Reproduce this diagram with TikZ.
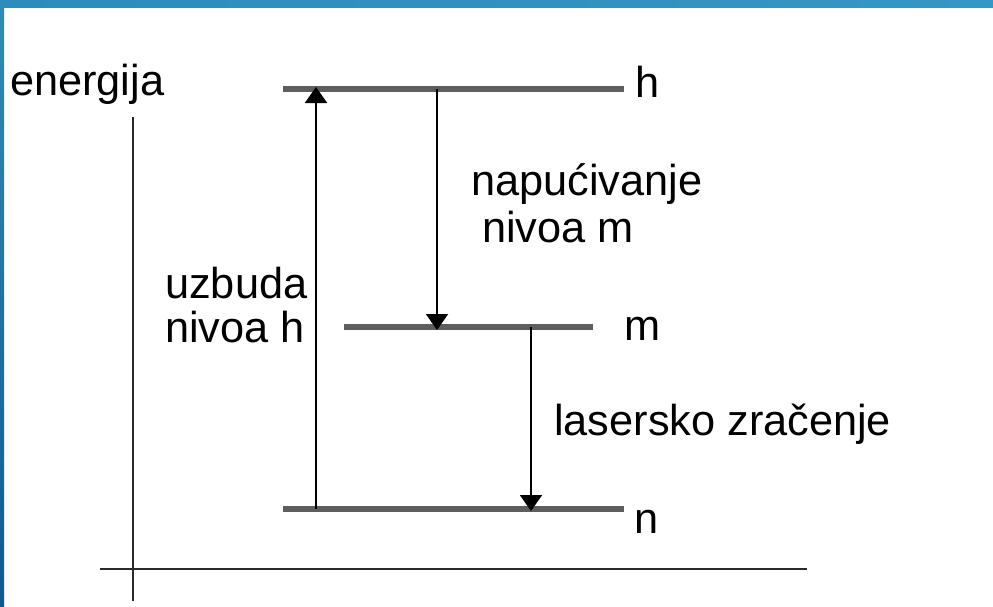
\documentclass[tikz,border=0pt]{standalone}
\usepackage{fontspec}
\setmainfont{Liberation Sans}
\usetikzlibrary{arrows.meta}
\definecolor{frametop}{HTML}{2E8CBA}
\definecolor{frameright}{HTML}{3597C3}
\definecolor{framebot}{HTML}{0C5A91}
\definecolor{levelgray}{HTML}{5E5E5E}
\definecolor{axisgray}{HTML}{2A2A2A}
\tikzset{
  lbl/.style={anchor=base west, inner sep=0pt, font=\fontsize{43.3}{47}\selectfont},
  level/.style={draw=levelgray, line width=6.5pt},
  axisline/.style={draw=axisgray, line width=2.5pt},
  trans/.style={draw=black, line width=2pt, -{Triangle[width=22pt,length=16pt]}}
}
\begin{document}
\begin{tikzpicture}[x=1pt,y=-1pt]
\useasboundingbox (0,0) rectangle (993,606);
\fill[white] (0,0) rectangle (993,606);
% frame
\shade[left color=frametop, right color=frameright] (0,0) rectangle (993,7);
\shade[top color=frametop, bottom color=framebot] (0,0) rectangle (4,606);
% axes
\coordinate (vtop) at (133,117);
\coordinate (vbot) at (133,601);
\coordinate (hl) at (100,569);
\coordinate (hr) at (807,569);
\draw[axisline] (vtop) -- (vbot);
\draw[axisline] (hl) -- (hr);
% levels
\coordinate (hL) at (283,89);  \coordinate (hR) at (624,89);
\coordinate (mL) at (344,327); \coordinate (mR) at (593,327);
\coordinate (nL) at (283,509); \coordinate (nR) at (624,509);
\draw[level] (hL) -- (hR);
\draw[level] (mL) -- (mR);
\draw[level] (nL) -- (nR);
% transitions
\coordinate (upS) at (316,509); \coordinate (upE) at (316,87);
\coordinate (d1S) at (437,89);  \coordinate (d1E) at (437,330);
\coordinate (d2S) at (531,327); \coordinate (d2E) at (531,511);
\draw[trans] (upS) -- (upE);
\draw[trans] (d1S) -- (d1E);
\draw[trans] (d2S) -- (d2E);
% labels
\node[lbl] (en) at (10,95) {energija};
\node[lbl] (lh) at (635,97) {h};
\node[lbl] (lm) at (624,340) {m};
\node[lbl] (ln) at (634,533) {n};
\node[lbl] (nap1) at (471,195) {napućivanje};
\node[lbl] (nap2) at (482,242) {nivoa m};
\node[lbl] (uz1) at (165,298) {uzbuda};
\node[lbl] (uz2) at (165,342) {nivoa h};
\node[lbl] (las) at (554,435) {lasersko zračenje};
\end{tikzpicture}
\end{document}
